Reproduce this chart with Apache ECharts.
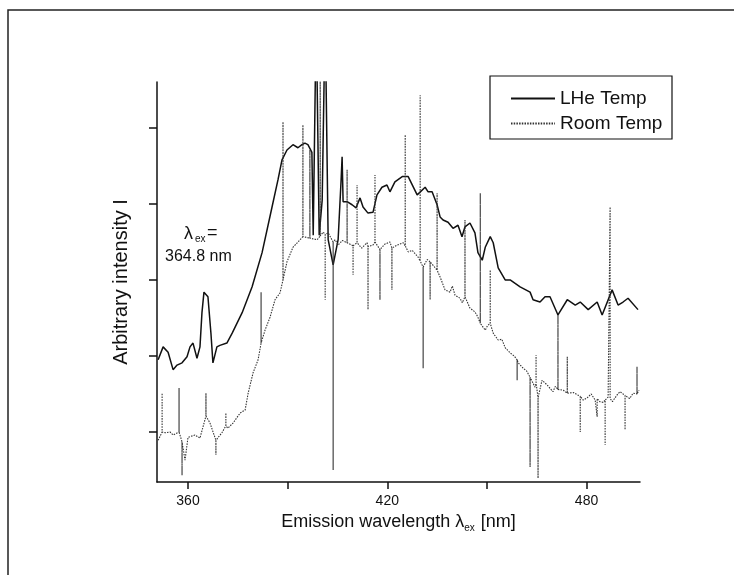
<!DOCTYPE html>
<html>
<head>
<meta charset="utf-8">
<script src="https://cdn.jsdelivr.net/npm/echarts@6/dist/echarts.min.js"></script>
<style>
html,body{margin:0;padding:0;background:#fff;}
#chart{width:734px;height:575px;}
</style>
</head>
<body>
<div id="chart"></div>
<script>
// ---- data (wavelength in nm, intensity in arbitrary units) ----
var lheWavelength = [351.0,352.5,354.0,355.5,356.7,358.2,359.7,360.6,361.5,362.7,363.6,364.2,364.8,366.0,366.9,367.5,368.7,369.6,371.7,373.3,376.3,379.3,382.3,385.3,387.1,388.3,389.8,391.6,393.1,394.3,395.2,396.1,397.3,397.7,398.6,399.5,400.4,401.3,402.2,403.7,405.2,406.1,406.4,406.7,407.9,409.4,410.6,411.8,412.7,414.2,415.7,416.9,418.4,419.9,420.8,422.3,424.5,426.3,429.0,431.4,432.3,433.5,435.0,435.9,436.8,438.3,439.8,441.3,442.5,443.4,444.9,446.4,447.3,448.6,449.5,451.0,451.9,453.4,455.5,457.0,460.0,463.0,463.9,466.0,467.5,469.0,471.4,474.2,476.6,478.1,480.5,483.2,484.7,487.7,489.5,491.0,492.5,495.5];
var lheIntensity = [1.95,2.12,2.05,1.82,1.88,1.91,1.99,2.12,2.17,1.97,2.12,2.57,2.84,2.78,2.30,1.91,2.12,2.14,2.17,2.30,2.57,2.91,3.36,3.96,4.32,4.58,4.71,4.78,4.74,4.78,4.80,4.78,4.68,3.59,6.5,3.59,4.05,6.5,3.53,3.20,3.53,4.32,4.62,4.03,4.03,3.99,3.95,4.08,3.96,3.88,3.89,4.12,4.22,4.25,4.16,4.29,4.36,4.36,4.12,4.22,4.16,4.16,3.99,3.83,3.79,3.76,3.68,3.72,3.57,3.70,3.75,3.62,3.36,3.26,3.43,3.57,3.49,3.16,3.00,3.00,2.91,2.84,2.74,2.71,2.78,2.78,2.54,2.74,2.67,2.71,2.61,2.71,2.54,2.87,2.67,2.71,2.76,2.61];

// Room temperature trace; noise spikes are recorded as repeated wavelengths (base, spike, base)
var roomWavelength = [351.0,352.2,352.2,352.2,353.1,354.6,355.5,357.3,357.3,357.3,358.2,358.2,358.2,359.1,360.0,362.1,363.6,365.4,365.4,365.4,366.6,368.4,368.4,368.4,370.2,371.4,371.4,371.4,372.0,373.6,375.7,377.2,378.1,379.6,381.1,382.0,382.0,382.0,383.2,384.7,386.2,387.7,388.6,388.6,388.6,389.8,391.6,393.1,394.6,394.6,394.6,396.7,396.7,396.7,398.9,399.8,399.8,399.8,400.7,401.3,401.3,401.3,402.2,403.7,403.7,403.7,404.3,405.2,406.5,407.9,407.9,407.9,409.7,409.7,409.7,410.9,410.9,410.9,412.3,413.9,414.2,414.2,414.2,415.7,416.3,416.3,416.3,417.8,417.8,417.8,419.2,420.8,421.4,421.4,421.4,423.0,424.8,425.4,425.4,425.4,426.3,427.5,429.3,429.9,429.9,429.9,430.8,430.8,430.8,432.0,432.9,432.9,432.9,435.0,435.0,435.0,435.9,437.4,438.9,439.6,440.4,441.9,442.6,443.4,443.4,443.4,444.9,446.4,447.2,448.0,448.0,448.0,449.5,450.2,451.0,451.0,451.0,451.9,453.4,454.5,455.5,457.0,458.2,459.1,459.1,459.1,459.4,460.9,462.0,463.0,463.0,463.0,464.5,464.8,464.8,464.8,465.4,465.4,465.4,466.6,468.1,469.9,470.6,471.4,471.4,471.4,472.0,473.0,474.2,474.2,474.2,476.0,477.2,478.1,478.1,478.1,479.0,480.2,481.4,482.6,483.2,483.2,483.2,484.0,485.0,485.6,485.6,485.6,486.5,487.1,487.1,487.1,487.8,488.6,489.4,490.1,491.6,491.6,491.6,492.2,493.0,494.0,495.2,495.2,495.2,495.8];
var roomIntensity = [0.89,1.00,1.51,1.00,0.99,1.00,0.96,1.00,1.58,1.00,0.87,0.43,0.87,0.63,0.93,0.96,0.92,1.21,1.51,1.21,1.12,0.89,0.70,0.89,0.99,1.08,1.25,1.08,1.05,1.12,1.25,1.29,1.51,1.78,1.95,2.17,2.84,2.17,2.34,2.51,2.74,2.83,3.00,5.08,3.00,3.24,3.43,3.50,3.57,5.04,3.57,3.55,4.71,3.55,3.53,3.58,5.70,3.58,3.63,3.60,2.74,3.60,3.62,3.50,0.50,3.50,3.53,3.46,3.52,3.49,4.45,3.49,3.45,3.07,3.45,3.49,4.25,3.49,3.42,3.49,3.44,2.61,3.44,3.46,3.50,4.38,3.50,3.40,2.74,3.40,3.47,3.50,3.42,2.87,3.42,3.46,3.49,3.45,4.91,3.45,3.37,3.39,3.30,3.25,5.43,3.25,3.17,1.84,3.17,3.27,3.24,2.74,3.24,3.13,4.14,3.13,3.04,2.87,2.84,2.92,2.80,2.76,2.70,2.78,3.79,2.78,2.63,2.58,2.52,2.43,4.14,2.43,2.34,2.40,2.43,3.13,2.43,2.30,2.21,2.22,2.11,2.04,2.00,1.95,1.68,1.95,1.91,1.84,1.80,1.72,0.54,1.72,1.59,1.65,2.01,1.65,1.45,0.39,1.45,1.68,1.62,1.53,1.60,1.56,2.54,1.56,1.58,1.55,1.51,1.99,1.51,1.52,1.49,1.47,1.00,1.47,1.42,1.45,1.50,1.42,1.44,1.20,1.44,1.40,1.39,1.42,0.83,1.42,1.46,1.44,3.96,1.44,1.40,1.45,1.50,1.53,1.48,1.03,1.48,1.46,1.44,1.51,1.50,1.86,1.50,1.55];

var xTicks = [360, 390, 420, 450, 480];
var xTickLabels = [360, 420, 480];
var yTicks = [1, 2, 3, 4, 5];

var seriesNames = ['LHe Temp', 'Room Temp'];

function pairs(xs, ys) { return xs.map(function (x, i) { return [x, ys[i]]; }); }

var FONT = 'Liberation Sans, Arial, sans-serif';
var chart = echarts.init(document.getElementById('chart'), null, {renderer: 'canvas'});
chart.setOption({
  animation: false,
  backgroundColor: '#fff',
  grid: {left: 157, right: 94, top: 82, bottom: 93, containLabel: false},
  legend: {
    orient: 'vertical', left: 510, top: 89, padding: 0,
    itemWidth: 44, itemHeight: 14, itemGap: 6,
    data: seriesNames,
    itemStyle: {opacity: 0},
    textStyle: {fontFamily: FONT, fontSize: 19, color: '#111', lineHeight: 16}
  },
  xAxis: {
    type: 'value', min: 350.66, max: 496.1,
    axisLine: {show: true, onZero: false, lineStyle: {color: '#111', width: 1.5}},
    axisTick: {show: true, inside: false, length: 7, customValues: xTicks, lineStyle: {color: '#111', width: 1.5}},
    axisLabel: {show: true, customValues: xTickLabels, margin: 12, fontFamily: FONT, fontSize: 14, color: '#111'},
    splitLine: {show: false},
    name: 'Emission wavelength λ{sub|ex} [nm]',
    nameLocation: 'middle', nameGap: 28,
    nameTextStyle: {fontFamily: FONT, fontSize: 18, color: '#111',
      rich: {sub: {fontFamily: FONT, fontSize: 10, color: '#111', padding: [12, 1, 0, 0]}}}
  },
  yAxis: {
    type: 'value', min: 0.342, max: 5.605,
    axisLine: {show: true, onZero: false, lineStyle: {color: '#111', width: 1.5}},
    axisTick: {show: true, inside: false, length: 8, customValues: yTicks, lineStyle: {color: '#111', width: 1.5}},
    axisLabel: {show: false},
    splitLine: {show: false},
    name: 'Arbitrary intensity I',
    nameLocation: 'middle', nameGap: 26,
    nameTextStyle: {fontFamily: FONT, fontSize: 20, color: '#111'}
  },
  series: [
    {
      name: seriesNames[0], type: 'line', data: pairs(lheWavelength, lheIntensity),
      showSymbol: false, symbol: 'none', clip: true,
      lineStyle: {color: '#111', width: 1.5}, itemStyle: {color: '#111'}
    },
    {
      name: seriesNames[1], type: 'line', data: pairs(roomWavelength, roomIntensity),
      showSymbol: false, symbol: 'none', clip: true,
      lineStyle: {color: '#333', width: 1.1, type: [1.5, 1.2]}, itemStyle: {color: '#333'}
    }
  ],
  graphic: [
    {type: 'rect', silent: true,
      shape: {x: 8, y: 10, width: 800, height: 700},
      style: {fill: 'none', stroke: '#222', lineWidth: 1.5}},
    {type: 'rect', silent: true,
      shape: {x: 490, y: 76, width: 182, height: 63},
      style: {fill: 'none', stroke: '#111', lineWidth: 1.2}},
    {type: 'text', silent: true, x: 184, y: 225,
      style: {text: 'λ', font: '18px ' + FONT, fill: '#111'}},
    {type: 'text', silent: true, x: 195, y: 234,
      style: {text: 'ex', font: '10px ' + FONT, fill: '#111'}},
    {type: 'text', silent: true, x: 207, y: 224,
      style: {text: '=', font: '18px ' + FONT, fill: '#111'}},
    {type: 'text', silent: true, x: 165, y: 249,
      style: {text: '364.8 nm', font: '16px ' + FONT, fill: '#111'}}
  ]
});
</script>
</body>
</html>
